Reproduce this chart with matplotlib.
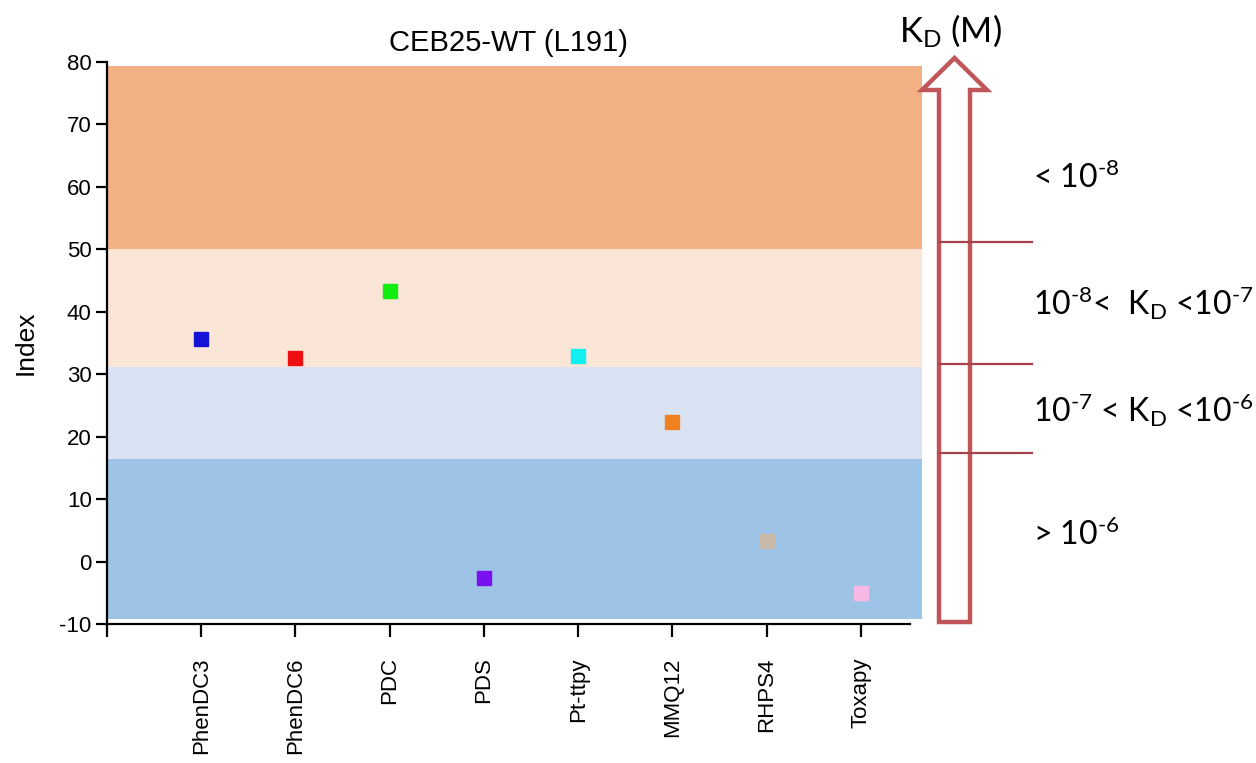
import matplotlib
matplotlib.use("Agg")
import matplotlib.pyplot as plt
from matplotlib.patches import Polygon
from matplotlib.lines import Line2D

plt.rcParams['font.family'] = ['Liberation Sans', 'DejaVu Sans']
plt.rcParams['axes.unicode_minus'] = False
plt.rcParams['mathtext.fontset'] = 'custom'
plt.rcParams['mathtext.rm'] = 'Lato'
plt.rcParams['mathtext.it'] = 'Lato:italic'
plt.rcParams['mathtext.bf'] = 'Lato:bold'

compounds = ["PhenDC3", "PhenDC6", "PDC", "PDS", "Pt-ttpy", "MMQ12", "RHPS4", "Toxapy"]
index_values = [35.6, 32.6, 43.4, -2.6, 32.9, 22.4, 3.3, -5.1]
marker_colors = ["#1414D8", "#EE1010", "#10EE10", "#7A10F0", "#10F0F0", "#F08020", "#C8B8A8", "#F8B8E4"]

band_edges = [-9.2, 16.4, 31.1, 50.0, 79.3]
band_colors = ["#9DC3E6", "#DAE3F3", "#FBE5D6", "#F2B084"]
kd_labels = [r"> 10$^{\text{-}6}$",
             r"10$^{\text{-}7}$ < K$_\mathrm{D}$ <10$^{\text{-}6}$",
             r"10$^{\text{-}8}$<  K$_\mathrm{D}$ <10$^{\text{-}7}$",
             r"< 10$^{\text{-}8}$"]

W, H = 1256, 763
fig = plt.figure(figsize=(W / 100, H / 100), dpi=100)
ax = fig.add_axes([107 / W, 1 - 624 / H, (910 - 107) / W, (624 - 62) / H])

xmax_frac = (922 - 107) / (910 - 107)
for lo, hi, c in zip(band_edges[:-1], band_edges[1:], band_colors):
    ax.axhspan(lo, hi, xmin=0.0015, xmax=xmax_frac, color=c, lw=0, clip_on=False, zorder=0)

xs = list(range(1, len(compounds) + 1))
for x, v, c in zip(xs, index_values, marker_colors):
    ax.plot(x, v, marker='s', ms=9.5, color=c, mec=c, ls='none', zorder=3)

ax.set_xlim(0, 8.52)
ax.set_ylim(-10, 80)
ax.set_yticks(range(-10, 81, 10))
ax.set_xticks([0] + xs)
ax.set_xticklabels([""] + compounds, rotation=90, fontsize=16)
ax.tick_params(axis='y', labelsize=16, length=8, width=1.6, direction='out', pad=3)
ax.tick_params(axis='x', length=9, width=1.6, direction='out', pad=15)
for s in ['top', 'right']:
    ax.spines[s].set_visible(False)
for s in ['left', 'bottom']:
    ax.spines[s].set_linewidth(1.6)
ax.set_facecolor('none')
ax.set_ylabel("Index", fontsize=19, labelpad=16)
ax.set_title("CEB25-WT (L191)", fontsize=21, pad=8)

def P(px, py):
    return (px / W, 1 - py / H)

arrow_pts = [P(954.5, 58), P(987, 90), P(970, 90), P(970, 622), P(939, 622), P(939, 90), P(922, 90)]
fig.patches.append(Polygon(arrow_pts, closed=True, fill=False, ec="#C0555A", lw=3.2,
                           joinstyle='miter', transform=fig.transFigure))
for py in [242, 364, 453]:
    (x0, y0), (x1, y1) = P(939, py), P(1032, py)
    fig.lines.append(Line2D([x0, x1], [y0, y1], color="#A8434B", lw=1.6, transform=fig.transFigure))

rfont = ['Lato', 'DejaVu Sans']
fig.text(*P(899, 31), r"K$_\mathrm{D}$ (M)", fontsize=25, family=rfont, va='center', ha='left')
label_y = [535, 410, 303, 178]
for lab, py in zip(kd_labels, label_y):
    fig.text(*P(1033, py), lab, fontsize=23, family=rfont, va='center', ha='left')

fig.savefig("out.png", dpi=100)
